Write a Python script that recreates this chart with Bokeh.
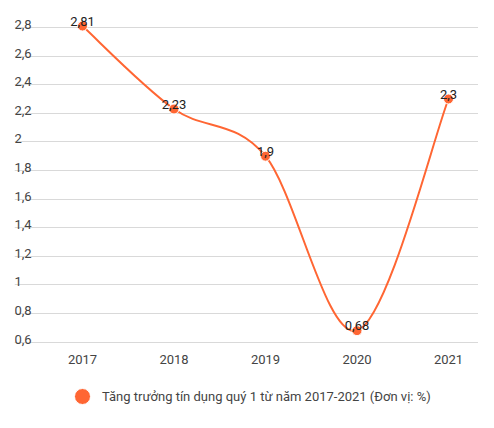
from bokeh.plotting import figure
from bokeh.models import ColumnDataSource, FixedTicker, Legend, LegendItem
from bokeh.core.properties import value
from bokeh.embed import file_html
from bokeh.resources import INLINE

years = [2017, 2018, 2019, 2020, 2021]
growth = [2.81, 2.23, 1.9, 0.68, 2.3]
y_ticks = [0.6, 0.8, 1.0, 1.2, 1.4, 1.6, 1.8, 2.0, 2.2, 2.4, 2.6, 2.8]
series_name = "Tăng trưởng tín dụng quý 1 từ năm 2017-2021 (Đơn vị: %)"

ORANGE = "#ff6633"
FONT = "Roboto"


def fmt(v):
    s = ("%g" % v).replace(".", ",")
    return s


# smooth curve segments (catmull-rom style control points from the data)
k = 1.0 / 6
n = len(years)
px = [years[0]] + years + [years[-1]]
py = [growth[0]] + growth + [growth[-1]]
seg = dict(x0=[], y0=[], x1=[], y1=[], cx0=[], cy0=[], cx1=[], cy1=[])
for i in range(n - 1):
    j = i + 1
    seg["x0"].append(years[i])
    seg["y0"].append(growth[i])
    seg["x1"].append(years[i + 1])
    seg["y1"].append(growth[i + 1])
    seg["cx0"].append(years[i] + (px[j + 1] - px[j - 1]) * k)
    seg["cy0"].append(growth[i] + (py[j + 1] - py[j - 1]) * k)
    seg["cx1"].append(years[i + 1] - (px[j + 2] - px[j]) * k)
    seg["cy1"].append(growth[i + 1] - (py[j + 2] - py[j]) * k)

# frame: x 14..478, y 14..412 ; 91.5 px per year, 143 px per unit
x_start = 2017 - 68 / 91.5
x_end = 2017 + 396 / 91.5
y_end = 2.8 + 13 / 143.0
y_start = y_end - 398 / 143.0

p = figure(width=478, height=412, output_backend="svg", toolbar_location=None,
           x_range=(x_start, x_end), y_range=(y_start, y_end),
           min_border_left=14, min_border_right=0, min_border_top=14,
           min_border_bottom=0)
p.outline_line_color = None
p.background_fill_color = "white"
p.border_fill_color = "white"

p.xaxis.visible = False
p.yaxis.visible = False
p.xgrid.visible = False
p.ygrid.ticker = FixedTicker(ticks=y_ticks)
p.ygrid.grid_line_color = "#d9d9d9"
p.ygrid.grid_line_width = 1

# y tick labels drawn inside the plot, above the grid lines
ysrc = ColumnDataSource(dict(x=[x_start] * len(y_ticks), y=y_ticks,
                             t=[fmt(v) for v in y_ticks]))
p.text("x", "y", text="t", source=ysrc, text_font=value(FONT),
       text_font_size="13px", text_color="#444444", text_align="left",
       text_baseline="alphabetic", y_offset=-3)

# year labels under the lowest grid line
xsrc = ColumnDataSource(dict(x=years, y=[y_ticks[0]] * len(years),
                             t=[str(y) for y in years]))
p.text("x", "y", text="t", source=xsrc, text_font=value(FONT),
       text_font_size="13px", text_color="#444444", text_align="center",
       text_baseline="alphabetic", y_offset=17)

p.bezier(x0="x0", y0="y0", x1="x1", y1="y1", cx0="cx0", cy0="cy0",
         cx1="cx1", cy1="cy1", source=ColumnDataSource(seg),
         line_color=ORANGE, line_width=2)

src = ColumnDataSource(dict(x=years, y=growth, t=[fmt(v) for v in growth]))
pts = p.scatter("x", "y", source=src, size=10, fill_color=ORANGE,
                line_color="white", line_width=1)
p.text("x", "y", text="t", source=src, text_font=value(FONT),
       text_font_size="13px", text_color="#222222", text_align="center",
       text_baseline="alphabetic", y_offset=-5)

legend = Legend(items=[LegendItem(label=series_name, renderers=[pts])],
                location=(48, -4), orientation="horizontal",
                glyph_width=40, glyph_height=40, label_standoff=-2,
                padding=0, margin=0, border_line_color=None,
                background_fill_alpha=0,
                label_text_font=FONT, label_text_font_size="13px",
                label_text_color="#444444")
p.add_layout(legend)

open("out.html", "w").write(file_html(p, INLINE))
